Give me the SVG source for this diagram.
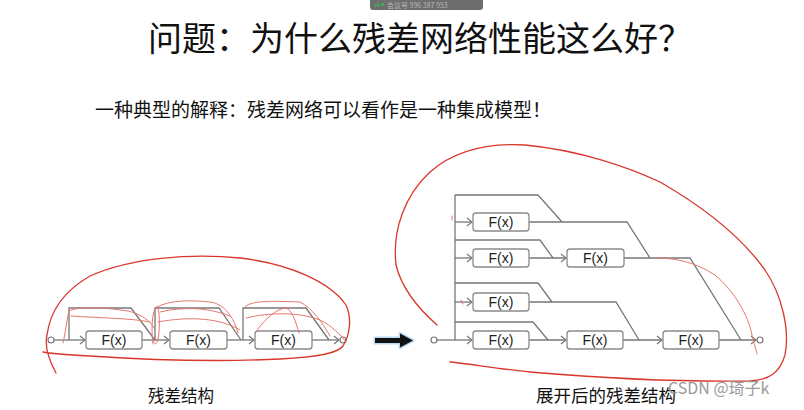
<svg xmlns="http://www.w3.org/2000/svg" width="804" height="410" viewBox="0 0 804 410">
<defs>
<marker id="chev" markerWidth="8" markerHeight="10" refX="6" refY="5" orient="auto" markerUnits="userSpaceOnUse">
<polyline points="1,1 6,5 1,9" fill="none" stroke="#777" stroke-width="1.2"/>
</marker>
</defs>
<style>
.ln{fill:none;stroke:#777;stroke-width:1.3}
.ar{fill:none;stroke:#777;stroke-width:1.3;marker-end:url(#chev)}
.bx{fill:#fff;stroke:#8a8a8a;stroke-width:1.3}
.fx{font-family:"Liberation Sans",Arial,sans-serif;font-size:14px;fill:#222;text-anchor:middle}
.cn{font-family:"Noto Sans CJK SC","Noto Sans",sans-serif;fill:#111}
.red{fill:none;stroke:#d9372c;stroke-width:1.3;stroke-linecap:round;stroke-linejoin:round}
.redt{fill:none;stroke:#e5766e;stroke-width:1;stroke-linecap:round}
.pt{fill:#fff;stroke:#777;stroke-width:1.2}
</style>
<rect width="804" height="410" fill="#fff"/>

<!-- meeting bar -->
<g id="meeting-bar">
<rect x="370" y="-6" width="113" height="16" rx="3" fill="#6e6e6e"/>
<rect x="375" y="4" width="1.5" height="3" fill="#3fb34f"/>
<rect x="377.5" y="2.5" width="1.5" height="4.5" fill="#3fb34f"/>
<circle cx="382.5" cy="4.5" r="1.6" fill="#3fb34f"/>
<text x="387" y="8" font-family="'Noto Sans CJK SC',sans-serif" font-size="7" fill="#b8b8b8">会议号 996 387 953</text>
</g>

<!-- title -->
<g id="title">
<text class="cn" x="420" y="51" font-size="34" text-anchor="middle">问题：为什么残差网络性能这么好？</text>
</g>
<g id="subtitle">
<text class="cn" x="95" y="117" font-size="19">一种典型的解释：残差网络可以看作是一种集成模型！</text>
</g>

<!-- LEFT: residual structure -->
<g id="left-connectors">
<line class="ar" x1="54" y1="340" x2="85" y2="340"/>
<path class="ln" d="M69,340 V308 H131 L155,340"/>
<line class="ar" x1="142" y1="340" x2="169" y2="340"/>
<path class="ln" d="M155,340 V308 H219 L241,340"/>
<line class="ar" x1="227" y1="340" x2="254" y2="340"/>
<path class="ln" d="M243,340 V308 H306 L329,340"/>
<line class="ar" x1="312" y1="340" x2="339" y2="340"/>
</g>
<g id="left-in"><circle class="pt" cx="51" cy="340" r="3"/></g>
<g id="left-out"><circle class="pt" cx="343" cy="340" r="3"/></g>
<g id="left-f1"><rect class="bx" x="86" y="331" width="56" height="18" rx="3"/><text class="fx" x="114" y="345">F(x)</text></g>
<g id="left-f2"><rect class="bx" x="170" y="331" width="57" height="18" rx="3"/><text class="fx" x="198.5" y="345">F(x)</text></g>
<g id="left-f3"><rect class="bx" x="255" y="331" width="57" height="18" rx="3"/><text class="fx" x="283.5" y="345">F(x)</text></g>
<g id="left-label"><text class="cn" x="181" y="402" font-size="16.5" text-anchor="middle">残差结构</text></g>

<!-- big arrow -->
<g id="big-arrow">
<path d="M375,338 H400 V333.5 L413,340.5 L400,347.5 V343 H375 Z" fill="#9cc8ee" stroke="#9cc8ee" stroke-width="3" stroke-linejoin="round" opacity="0.7"/>
<path d="M375,338 H400 V333.5 L413,340.5 L400,347.5 V343 H375 Z" fill="#111"/>
</g>

<!-- RIGHT: unrolled structure -->
<g id="right-connectors">
<line class="ln" x1="437" y1="340" x2="455" y2="340"/>
<line class="ln" x1="455" y1="195" x2="455" y2="340"/>
<path class="ln" d="M455,195 H538 L562,222"/>
<line class="ar" x1="455" y1="222" x2="472" y2="222"/>
<path class="ln" d="M529,222 H627 L650,258"/>
<path class="ln" d="M455,240 H540 L553,258"/>
<line class="ar" x1="455" y1="258" x2="472" y2="258"/>
<line class="ar" x1="529" y1="258" x2="566" y2="258"/>
<path class="ln" d="M624,258 H690 L741,340"/>
<path class="ln" d="M455,283 H538 L552,302"/>
<line class="ar" x1="455" y1="302" x2="472" y2="302"/>
<path class="ln" d="M529,302 H616 L639,340"/>
<path class="ln" d="M455,322 H533 L548,340"/>
<line class="ar" x1="455" y1="340" x2="472" y2="340"/>
<line class="ar" x1="529" y1="340" x2="566" y2="340"/>
<line class="ar" x1="623" y1="340" x2="662" y2="340"/>
<line class="ar" x1="719" y1="340" x2="756" y2="340"/>
</g>
<g id="right-in"><circle class="pt" cx="434" cy="340" r="3"/></g>
<g id="right-out"><circle class="pt" cx="760" cy="340" r="3"/></g>
<g id="r1-f1"><rect class="bx" x="473" y="213" width="56" height="18" rx="3"/><text class="fx" x="501" y="227">F(x)</text></g>
<g id="r2-f1"><rect class="bx" x="473" y="249" width="56" height="18" rx="3"/><text class="fx" x="501" y="263">F(x)</text></g>
<g id="r2-f2"><rect class="bx" x="567" y="249" width="57" height="18" rx="3"/><text class="fx" x="595.5" y="263">F(x)</text></g>
<g id="r3-f1"><rect class="bx" x="473" y="293" width="56" height="18" rx="3"/><text class="fx" x="501" y="307">F(x)</text></g>
<g id="r4-f1"><rect class="bx" x="473" y="331" width="56" height="18" rx="3"/><text class="fx" x="501" y="345">F(x)</text></g>
<g id="r4-f2"><rect class="bx" x="567" y="331" width="56" height="18" rx="3"/><text class="fx" x="595" y="345">F(x)</text></g>
<g id="r4-f3"><rect class="bx" x="663" y="331" width="56" height="18" rx="3"/><text class="fx" x="691" y="345">F(x)</text></g>
<g id="right-label"><text class="cn" x="606" y="402" font-size="17.5" text-anchor="middle">展开后的残差结构</text></g>

<!-- red hand annotations -->
<g id="annotations">
<path class="red" d="M56,373 C50,362 44,348 47,335 C50,312 62,292 90,276 C130,258 190,253 240,258 C290,264 330,282 346,305 C352,318 350,335 343,346 C338,353 320,357 280,359 C220,362 150,360 90,356 C70,355 52,354 43,352"/>
<path class="redt" d="M63,343 C66,330 67,318 69,311 C80,306 100,307 128,311 C140,314 150,320 154,328"/>
<path class="redt" d="M71,316 C100,318 130,318 150,322"/>
<path class="redt" d="M153,344 C151,330 152,312 156,307 C159,306 160,318 159,332 C158,344 155,347 153,340"/>
<path class="redt" d="M157,307 C170,300 190,300 210,302 C225,304 234,318 238,333"/>
<path class="redt" d="M160,312 C185,306 210,308 230,316"/>
<path class="redt" d="M158,322 C190,316 220,318 240,330"/>
<path class="redt" d="M244,308 C250,300 270,301 300,302 C312,308 322,322 330,336"/>
<path class="redt" d="M257,330 C266,318 278,308 286,308 C292,310 296,322 299,333"/>
<path class="redt" d="M246,318 C270,312 300,312 320,320 C332,326 340,334 346,342"/>
<path class="red" d="M437,325 C420,310 402,290 396,265 C392,230 405,195 430,172 C455,150 490,143 525,145 C580,150 630,168 660,182 C700,205 740,235 765,270 C782,295 790,330 785,355 C780,372 770,380 750,381 C680,382 600,378 530,372 C500,369 470,364 450,362"/>
<path class="redt" d="M657,258 C675,258 695,262 715,275 C735,292 748,315 752,335 C754,343 756,350 757,354"/>
<path class="redt" d="M452,216 L452,220"/>
<path class="redt" d="M461,300 L463,304"/>
</g>

<!-- watermark -->
<g id="watermark">
<text x="668" y="394" font-family="'Noto Sans CJK SC','Liberation Sans',sans-serif" font-size="16" fill="#9a9a9a">CSDN @琦子k</text>
</g>
</svg>
